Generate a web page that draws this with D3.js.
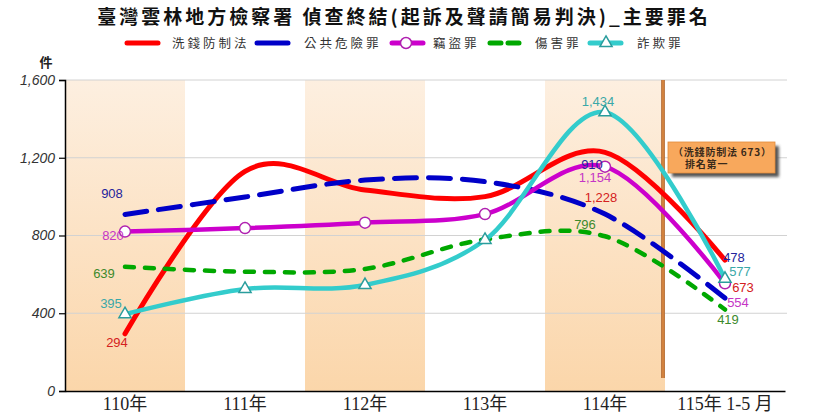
<!DOCTYPE html>
<html>
<head>
<meta charset="utf-8">
<script src="https://cdn.jsdelivr.net/npm/d3@7"></script>
<style>
body { margin: 0; background: #fff; }
#area1 { width: 830px; height: 415px; }
</style>
</head>
<body>
<div id="area1"></div>
<script>

// data
var categories = ["110年", "111年", "112年", "113年", "114年", "115年 1-5 月"];
var seriesNames = ["洗錢防制法", "公共危險罪", "竊盜罪", "傷害罪", "詐欺罪"];
var moneyLaundering = [294, 1130, 1034, 1000, 1228, 673];
var publicDanger = [908, 998, 1085, 1077, 910, 478];
var theft = [820, 838, 866, 910, 1154, 554];
var injury = [639, 614, 628, 780, 796, 419];
var fraud = [395, 525, 545, 777, 1434, 577];
var yTicks = [0, 400, 800, 1200, 1600];
var labelledPoints = [0, 4, 5];
var shadedBands = ["110年", "112年", "114年"];
var titleText = "臺灣雲林地方檢察署 偵查終結(起訴及聲請簡易判決)_主要罪名";
var noteLines = ["（洗錢防制法 673）", "排名第一"];

var width = 830;
var height = 415;
var margin = {left: 65, right: 45, top: 80, bottom: 24};

var lineColor = ["#ff0000", "#0000c8", "#cc00cc", "#00a800", "#33cccc"];
var textColor = ["#d42020", "#23239c", "#c535c5", "#3c8a2c", "#3aa8a8"];

// label offsets from their point, [dx, dy] per labelled point
var labelShift = [
	[[-8, 13], [-4, 50], [18, 32]],
	[[-13, -17], [-13, -45], [9, -36]],
	[[-12, 8], [-10, 15], [13, 24]],
	[[-21, 11], [-20, -7], [3, 14]],
	[[-14, -6], [-7, -6], [15, -3]]
];

var series = [moneyLaundering, publicDanger, theft, injury, fraud];

var svg = d3.select("#area1")
			.append("svg")
			.attr("width", width)
			.attr("height", height)
			.style("font-family", "'Liberation Sans', Arial, sans-serif");

var defs = svg.append("defs");

var grad = defs.append("linearGradient")
			.attr("id", "bandGrad")
			.attr("x1", 0).attr("y1", 0)
			.attr("x2", 0).attr("y2", 1);
grad.append("stop").attr("offset", "0%").attr("stop-color", "#fdefe0");
grad.append("stop").attr("offset", "100%").attr("stop-color", "#fbd6aa");

defs.append("filter")
	.attr("id", "blur")
	.append("feGaussianBlur")
	.attr("stdDeviation", 1.6);

var x = d3.scaleBand()
			.domain(categories)
			.range([margin.left, width - margin.right])
			.padding(0);

var y = d3.scaleLinear()
			.domain([0, 1600])
			.range([height - margin.bottom, margin.top]);

function cx(i) { return x(categories[i]) + x.bandwidth() / 2; }

// alternating shaded columns
svg.selectAll("rect.band")
	.data(shadedBands)
	.enter()
	.append("rect")
	.attr("class", "band")
	.attr("x", function(d) { return x(d); })
	.attr("y", y(1600))
	.attr("width", x.bandwidth())
	.attr("height", y(0) - y(1600))
	.style("fill", "url(#bandGrad)");

// gridlines
svg.selectAll("line.grid")
	.data(yTicks.slice(1))
	.enter()
	.append("line")
	.attr("class", "grid")
	.attr("x1", margin.left)
	.attr("x2", width - margin.right + 2)
	.attr("y1", function(d) { return y(d); })
	.attr("y2", function(d) { return y(d); })
	.style("stroke", "#d2d2d2")
	.style("stroke-width", 1);

// y axis
var yAxis = svg.append("g")
	.attr("transform", "translate(" + margin.left + ",0)")
	.call(d3.axisLeft(y).tickValues(yTicks).tickSize(6).tickPadding(4).tickFormat(d3.format(",")));
yAxis.select(".domain").style("stroke", "#000").style("stroke-width", 1.5);
yAxis.selectAll(".tick line").style("stroke", "#000").style("stroke-width", 1.2);
yAxis.selectAll("text")
	.style("font-size", "14px")
	.style("font-style", "italic")
	.style("fill", "#333");

svg.append("text")
	.attr("x", 46)
	.attr("y", 67)
	.attr("text-anchor", "middle")
	.style("font-family", "'Noto Sans CJK TC'")
	.style("font-size", "13px")
	.style("font-weight", "bold")
	.style("fill", "#222")
	.text("件");

// x axis
var xAxis = svg.append("g")
	.attr("transform", "translate(0," + y(0) + ")")
	.call(d3.axisBottom(x).tickSize(0).tickPadding(5));
xAxis.select(".domain").style("stroke", "#000").style("stroke-width", 1.5);
xAxis.selectAll("text")
	.attr("dy", "0.78em")
	.style("font-family", "'Liberation Serif', 'Noto Sans CJK TC', serif")
	.style("font-size", "18px")
	.style("fill", "#222");

// divider for the partial year
svg.append("line")
	.attr("x1", x(categories[5]) - 2)
	.attr("x2", x(categories[5]) - 2)
	.attr("y1", y(1600))
	.attr("y2", y(0) - 13)
	.style("stroke", "#a8591c")
	.style("stroke-width", 3.5);
svg.append("line")
	.attr("x1", x(categories[5]) - 2)
	.attr("x2", x(categories[5]) - 2)
	.attr("y1", y(1600))
	.attr("y2", y(0) - 13)
	.style("stroke", "#e0904a")
	.style("stroke-width", 1.5);

// lines
var line = d3.line()
	.x(function(d, i) { return cx(i); })
	.y(function(d) { return y(d); })
	.curve(d3.curveCardinal.tension(0));

var dashes = [null, "22,12", null, "9,11", null];
var widths = [5, 5, 4.5, 4.5, 4.5];

series.forEach(function(vals, s) {
	svg.append("path")
		.datum(vals)
		.attr("d", line)
		.style("fill", "none")
		.style("stroke", lineColor[s])
		.style("stroke-width", widths[s])
		.style("stroke-linecap", "round")
		.style("stroke-dasharray", dashes[s]);
});

// markers
svg.selectAll("circle.theft")
	.data(theft)
	.enter()
	.append("circle")
	.attr("class", "theft")
	.attr("cx", function(d, i) { return cx(i); })
	.attr("cy", function(d) { return y(d); })
	.attr("r", 5.5)
	.style("fill", "#fff")
	.style("stroke", "#b020b0")
	.style("stroke-width", 1.5);

var tri = d3.symbol().type(d3.symbolTriangle).size(64);
svg.selectAll("path.fraud")
	.data(fraud)
	.enter()
	.append("path")
	.attr("class", "fraud")
	.attr("d", tri)
	.attr("transform", function(d, i) { return "translate(" + cx(i) + "," + y(d) + ")"; })
	.style("fill", "#fff")
	.style("stroke", "#2a9d9d")
	.style("stroke-width", 1.5);

// value labels
series.forEach(function(vals, s) {
	labelledPoints.forEach(function(i, k) {
		svg.append("text")
			.attr("x", cx(i) + labelShift[s][k][0])
			.attr("y", y(vals[i]) + labelShift[s][k][1])
			.attr("text-anchor", "middle")
			.style("font-size", "13px")
			.style("fill", textColor[s])
			.text(d3.format(",")(vals[i]));
	});
});

// note box
var note = svg.append("g").attr("transform", "translate(668,142)");
note.append("rect")
	.attr("x", 4).attr("y", 4)
	.attr("width", 107).attr("height", 31)
	.attr("filter", "url(#blur)")
	.style("fill", "#555");
note.append("rect")
	.attr("width", 107).attr("height", 31)
	.style("fill", "#f8a85c")
	.style("stroke", "#e08a3a")
	.style("stroke-width", 0.8);
note.selectAll("text")
	.data(noteLines)
	.enter()
	.append("text")
	.attr("x", function(d, i) { return i == 0 ? 5 : 17; })
	.attr("y", function(d, i) { return 14 + i * 12; })
	.style("font-family", "'Noto Sans CJK TC'")
	.style("font-size", "10px")
	.style("font-weight", "bold")
	.style("letter-spacing", "0.8px")
	.style("fill", "#3a2a1a")
	.text(function(d) { return d; });

// title
svg.append("text")
	.attr("x", 404)
	.attr("y", 24)
	.attr("text-anchor", "middle")
	.style("font-family", "'Noto Sans CJK TC'")
	.style("font-size", "19px")
	.style("font-weight", "bold")
	.style("letter-spacing", "3px")
	.style("fill", "#111")
	.text(titleText);

// legend
var legendX = [125, 255, 390, 488, 588];
var legend = svg.selectAll("g.legend")
	.data(seriesNames)
	.enter()
	.append("g")
	.attr("class", "legend")
	.attr("transform", function(d, i) { return "translate(" + legendX[i] + ",43)"; });

legend.append("line")
	.attr("x1", 2).attr("x2", 33)
	.attr("y1", 0).attr("y2", 0)
	.style("stroke", function(d, i) { return lineColor[i]; })
	.style("stroke-width", 5)
	.style("stroke-linecap", "round")
	.style("stroke-dasharray", function(d, i) { return i == 3 ? "11,7" : null; });

legend.filter(function(d, i) { return i == 2; })
	.append("circle")
	.attr("cx", 16).attr("cy", 0).attr("r", 5.5)
	.style("fill", "#fff")
	.style("stroke", "#b020b0")
	.style("stroke-width", 1.5);

legend.filter(function(d, i) { return i == 4; })
	.append("path")
	.attr("d", tri)
	.attr("transform", "translate(18,0)")
	.style("fill", "#fff")
	.style("stroke", "#2a9d9d")
	.style("stroke-width", 1.5);

legend.append("text")
	.attr("x", function(d, i) { return [47, 49, 43, 47, 49][i]; })
	.attr("y", 5)
	.style("font-family", "'Noto Sans CJK TC'")
	.style("font-size", "12.5px")
	.style("letter-spacing", "3px")
	.style("fill", "#333")
	.text(function(d) { return d; });

</script>
</body>
</html>
